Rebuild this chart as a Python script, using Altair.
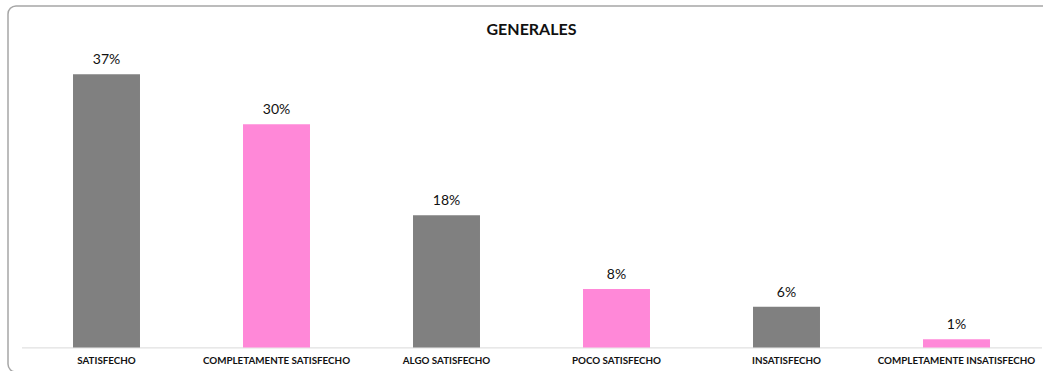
import altair as alt
import pandas as pd

categorias = ["SATISFECHO", "COMPLETAMENTE SATISFECHO", "ALGO SATISFECHO",
              "POCO SATISFECHO", "INSATISFECHO", "COMPLETAMENTE INSATISFECHO"]
valores = [37.0, 30.2, 17.9, 7.9, 5.5, 1.1]
etiquetas = ["37%", "30%", "18%", "8%", "6%", "1%"]
colores = ["#808080", "#FF88D8", "#808080", "#FF88D8", "#808080", "#FF88D8"]

df = pd.DataFrame({"categoria": categorias, "valor": valores, "etiqueta": etiquetas})

FONT = "Lato"

x_enc = alt.X("categoria:N", sort=categorias, title=None,
              scale=alt.Scale(paddingInner=0.606, paddingOuter=0.303),
              axis=alt.Axis(labelAngle=0, ticks=False, grid=False, domainColor="#D9D9D9",
                            domainWidth=1, labelFont=FONT, labelFontWeight="bold",
                            labelFontSize=9.8, labelColor="#111111", labelPadding=8,
                            labelOverlap=False, labelLimit=300))
y_enc = alt.Y("valor:Q", title=None, scale=alt.Scale(domain=[0, 40], nice=False),
              axis=None)

base = alt.Chart(df)

bars = base.mark_bar().encode(
    x=x_enc, y=y_enc,
    color=alt.Color("categoria:N", scale=alt.Scale(domain=categorias, range=colores), legend=None),
)

text = base.mark_text(baseline="bottom", dy=-7, font=FONT, fontSize=14, color="#111111").encode(
    x=alt.X("categoria:N", sort=categorias), y="valor:Q", text="etiqueta:N"
)

border = alt.Chart(pd.DataFrame({"k": [0]})).mark_rect(
    fillOpacity=0, stroke="#A6A6A6", strokeWidth=1.5, cornerRadius=8, clip=False
).encode(x=alt.value(-13.5), x2=alt.value(1040), y=alt.value(-46), y2=alt.value(320))

chart = alt.layer(border, bars, text).properties(
    width=1020, height=295.4,
    title=alt.TitleParams("GENERALES", font=FONT, fontSize=16, fontWeight="bold",
                          color="#111111", anchor="middle", offset=-33),
    autosize=alt.AutoSizeParams(type="none"),
    padding={"left": 21.5, "top": 52, "right": 1.5, "bottom": 23.6},
).configure(background="white").configure_view(strokeWidth=0, stroke="transparent")

chart.save("out.html", embed_options={"renderer": "svg", "actions": False})
